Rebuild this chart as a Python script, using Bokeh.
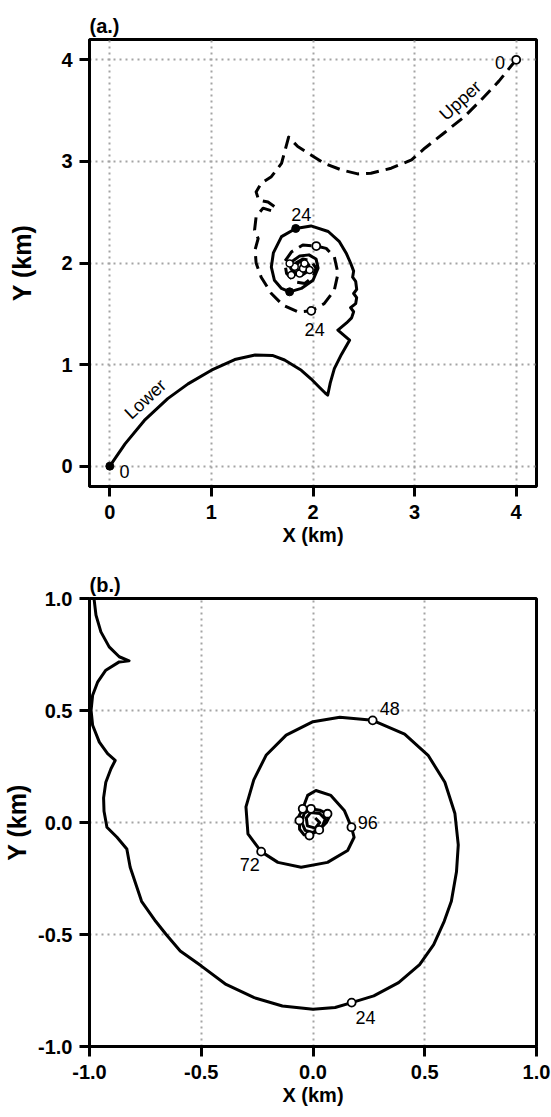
from bokeh.core.properties import value
from bokeh.embed import file_html
from bokeh.layouts import column
from bokeh.models import FixedTicker, PrintfTickFormatter, Range1d, Title
from bokeh.plotting import figure
from bokeh.resources import INLINE

FONT = "Liberation Sans"

# ---------------- (a.) two release heights, X/Y in km ----------------
lower_track = [
    (0.00, 0.00), (0.15, 0.22), (0.34, 0.45), (0.57, 0.665), (0.77, 0.81),
    (1.00, 0.945), (1.23, 1.05), (1.43, 1.095), (1.60, 1.09), (1.72, 1.045),
    (1.885, 0.944), (1.98, 0.86), (2.06, 0.78), (2.12, 0.72), (2.145, 0.70),
    (2.17, 0.82), (2.21, 0.96), (2.28, 1.10), (2.36, 1.24), (2.245, 1.34),
    (2.33, 1.41), (2.38, 1.46), (2.40, 1.52), (2.37, 1.56), (2.42, 1.60),
    (2.43, 1.66), (2.40, 1.70), (2.43, 1.74), (2.42, 1.82), (2.39, 1.86),
    (2.40, 1.92), (2.37, 2.00), (2.33, 2.09), (2.26, 2.21), (2.15, 2.31),
    (1.98, 2.365), (1.83, 2.34), (1.69, 2.26), (1.61, 2.10), (1.59, 1.96),
    (1.62, 1.83), (1.69, 1.75), (1.77, 1.716), (1.885, 1.75), (2.00, 1.83),
    (2.05, 1.95), (2.03, 2.04), (1.96, 2.08), (1.87, 2.07), (1.80, 2.02),
    (1.78, 1.95), (1.82, 1.89), (1.89, 1.88), (1.95, 1.92), (1.96, 1.98),
    (1.92, 2.02), (1.86, 2.01), (1.83, 1.96), (1.86, 1.92), (1.91, 1.93),
    (1.92, 1.97), (1.88, 1.99),
]
upper_track = [
    (4.00, 4.00), (3.83, 3.79), (3.655, 3.605), (3.49, 3.44), (3.29, 3.28),
    (3.10, 3.13), (2.97, 3.015), (2.77, 2.933), (2.57, 2.884), (2.44, 2.877),
    (2.28, 2.916), (2.11, 2.982), (1.98, 3.064), (1.85, 3.146), (1.76, 3.24),
    (1.69, 2.98), (1.59, 2.85), (1.49, 2.785), (1.44, 2.70), (1.465, 2.62),
    (1.557, 2.60), (1.63, 2.55), (1.59, 2.515), (1.508, 2.54), (1.44, 2.455),
    (1.425, 2.325), (1.46, 2.24), (1.43, 2.13), (1.44, 2.00), (1.49, 1.86),
    (1.59, 1.70), (1.705, 1.585), (1.85, 1.519), (1.983, 1.529), (2.11, 1.60),
    (2.21, 1.733), (2.246, 1.897), (2.21, 2.061), (2.13, 2.144), (2.032, 2.167),
    (1.90, 2.177), (1.79, 2.111), (1.72, 2.012), (1.74, 1.897), (1.82, 1.815),
    (1.92, 1.798), (2.00, 1.864), (2.03, 1.95), (1.98, 2.02), (1.90, 2.04),
    (1.83, 2.00), (1.80, 1.93), (1.85, 1.88), (1.92, 1.89), (1.95, 1.95),
    (1.92, 1.98), (1.87, 1.96),
]
# daily (24 h) positions
lower_daily = [(0.00, 0.00), (1.83, 2.34), (1.77, 1.716)]
upper_daily = [(4.00, 4.00), (1.983, 1.529), (2.032, 2.167)]
center_daily = [(1.787, 1.881), (1.869, 1.897), (1.902, 1.947), (1.967, 1.93),
                (1.82, 1.963), (1.77, 1.996), (1.917, 1.996)]
ticks_a = [0, 1, 2, 3, 4]

# ---------------- (b.) centred track, X/Y in km ----------------
track_b = [
    (-0.982, 1.05), (-0.979, 0.993), (-0.971, 0.926), (-0.949, 0.851), (-0.912, 0.784),
    (-0.867, 0.74), (-0.823, 0.722), (-0.867, 0.717), (-0.927, 0.68), (-0.963, 0.628),
    (-0.986, 0.568), (-0.993, 0.501), (-0.986, 0.434), (-0.956, 0.359), (-0.919, 0.307),
    (-0.885, 0.277), (-0.904, 0.24), (-0.927, 0.18), (-0.937, 0.11), (-0.935, 0.05),
    (-0.922, -0.021), (-0.877, -0.066), (-0.833, -0.118), (-0.818, -0.2), (-0.788, -0.289),
    (-0.767, -0.352), (-0.704, -0.441), (-0.657, -0.5), (-0.594, -0.574), (-0.499, -0.641),
    (-0.389, -0.723), (-0.263, -0.782), (-0.137, -0.819), (0.0, -0.834), (0.099, -0.826),
    (0.173, -0.804), (0.272, -0.774), (0.383, -0.715), (0.477, -0.634), (0.54, -0.545),
    (0.587, -0.441), (0.619, -0.352), (0.642, -0.22), (0.65, -0.1), (0.635, 0.04),
    (0.59, 0.18), (0.515, 0.30), (0.41, 0.395), (0.267, 0.456), (0.12, 0.47),
    (0.0, 0.45), (-0.12, 0.39), (-0.21, 0.30), (-0.265, 0.19), (-0.30, 0.07),
    (-0.291, -0.051), (-0.232, -0.13), (-0.157, -0.178), (-0.053, -0.2), (0.065, -0.178),
    (0.155, -0.125), (0.184, -0.066), (0.172, -0.021), (0.14, 0.054), (0.08, 0.121),
    (0.013, 0.143), (-0.024, 0.121), (-0.046, 0.061), (-0.062, 0.03), (-0.061, 0.009),
    (-0.06, -0.03), (-0.04, -0.055), (-0.016, -0.058), (0.028, -0.033), (0.06, 0.0),
    (0.075, 0.03), (0.065, 0.039), (0.03, 0.055), (-0.009, 0.061), (-0.04, 0.04),
    (-0.05, 0.0), (-0.035, -0.035), (0.0, -0.045), (0.04, -0.02), (0.055, 0.015),
    (0.03, 0.04), (-0.01, 0.045), (-0.03, 0.02), (-0.025, -0.015), (0.01, -0.025),
    (0.03, 0.0), (0.01, 0.02),
]
daily_b = [(0.173, -0.804), (0.267, 0.456), (-0.232, -0.13), (0.172, -0.021),
           (-0.046, 0.061), (-0.061, 0.009), (-0.016, -0.058), (0.028, -0.033),
           (0.065, 0.039), (-0.009, 0.061)]
hour_labels_b = ["24", "48", "72", "96"]
ticks_b = [-1.0, -0.5, 0.0, 0.5, 1.0]


def xs(pts):
    return [p[0] for p in pts]


def ys(pts):
    return [p[1] for p in pts]


def make_panel(xr, yr, ticks, fmt, height, top, bottom, tag, tag_standoff,
               ylab_standoff):
    p = figure(width=551, height=height, x_range=Range1d(*xr), y_range=Range1d(*yr),
               output_backend="svg", toolbar_location=None,
               min_border_left=88, min_border_right=15,
               min_border_top=top, min_border_bottom=bottom)
    p.background_fill_color = "white"
    p.border_fill_color = "white"
    p.outline_line_color = "black"
    p.outline_line_width = 3
    p.add_layout(Title(text=tag, align="left", text_font=FONT, text_font_size="20px",
                       text_font_style="bold", text_color="black",
                       standoff=tag_standoff), "above")
    for ax in (p.xaxis[0], p.yaxis[0]):
        ax.ticker = FixedTicker(ticks=ticks)
        ax.formatter = PrintfTickFormatter(format=fmt)
        ax.major_label_text_font = FONT
        ax.major_label_text_font_size = "20px"
        ax.major_label_text_font_style = "bold"
        ax.major_label_text_color = "black"
        ax.major_tick_in = 0
        ax.major_tick_out = 10
        ax.major_tick_line_width = 3
        ax.major_tick_line_color = "black"
        ax.minor_tick_line_color = None
        ax.axis_line_width = 3
        ax.axis_line_color = "black"
        ax.axis_label_text_font = FONT
        ax.axis_label_text_font_style = "bold"
        ax.axis_label_text_color = "black"
    p.xaxis.axis_label = "X (km)"
    p.xaxis.axis_label_text_font_size = "20px"
    p.xaxis.axis_label_standoff = 2
    p.yaxis.axis_label = "Y (km)"
    p.yaxis.axis_label_text_font_size = "25px"
    p.yaxis.axis_label_standoff = ylab_standoff
    p.xaxis.major_label_standoff = 8
    p.yaxis.major_label_standoff = 7
    p.grid.grid_line_color = "#a4a4a4"
    p.grid.grid_line_dash = "2 4"
    p.grid.grid_line_width = 2
    return p


# ----- panel (a.) -----
pa = make_panel((-0.2, 4.2), (-0.2, 4.2), ticks_a, "%d", 558, 39, 72, "(a.)", 5, 22)
pa.line(xs(lower_track), ys(lower_track), line_color="black", line_width=3,
        line_join="round")
pa.line(xs(upper_track), ys(upper_track), line_color="black", line_width=3,
        line_dash="13 7", line_join="round")
pa.scatter(xs(center_daily), ys(center_daily), marker="circle", size=7,
           fill_color="white", line_color="black", line_width=1.5)
pa.scatter(xs(upper_daily), ys(upper_daily), marker="circle", size=8,
           fill_color="white", line_color="black", line_width=1.8)
pa.scatter(xs(lower_daily), ys(lower_daily), marker="circle", size=8,
           fill_color="black", line_color="black")
pa.text(x=[0.145, 3.84, 1.885, 2.016], y=[-0.057, 3.97, 2.48, 1.345],
        text=["0", "0", "24", "24"], text_font=value(FONT),
        text_font_size=value("18px"), text_align="center", text_baseline="middle")
pa.text(x=[0.35, 3.45], y=[0.66, 3.60], text=["Lower", "Upper"],
        angle=[0.75, 0.74], text_font=value(FONT), text_font_size=value("18px"),
        text_align="center", text_baseline="middle")

# ----- panel (b.) -----
pb = make_panel((-1.0, 1.0), (-1.0, 1.0), ticks_b, "%.1f", 559, 40, 71, "(b.)", 6, 4)
pb.line(xs(track_b), ys(track_b), line_color="black", line_width=3,
        line_join="round")
pb.scatter(xs(daily_b), ys(daily_b), marker="circle", size=8,
           fill_color="white", line_color="black", line_width=1.8)
pb.text(x=[0.235, 0.343, -0.283, 0.245], y=[-0.87, 0.51, -0.186, 0.002],
        text=hour_labels_b, text_font=value(FONT), text_font_size=value("18px"),
        text_align="center", text_baseline="middle")

layout = column(pa, pb, spacing=0)
with open("out.html", "w") as f:
    f.write(file_html(layout, INLINE))
